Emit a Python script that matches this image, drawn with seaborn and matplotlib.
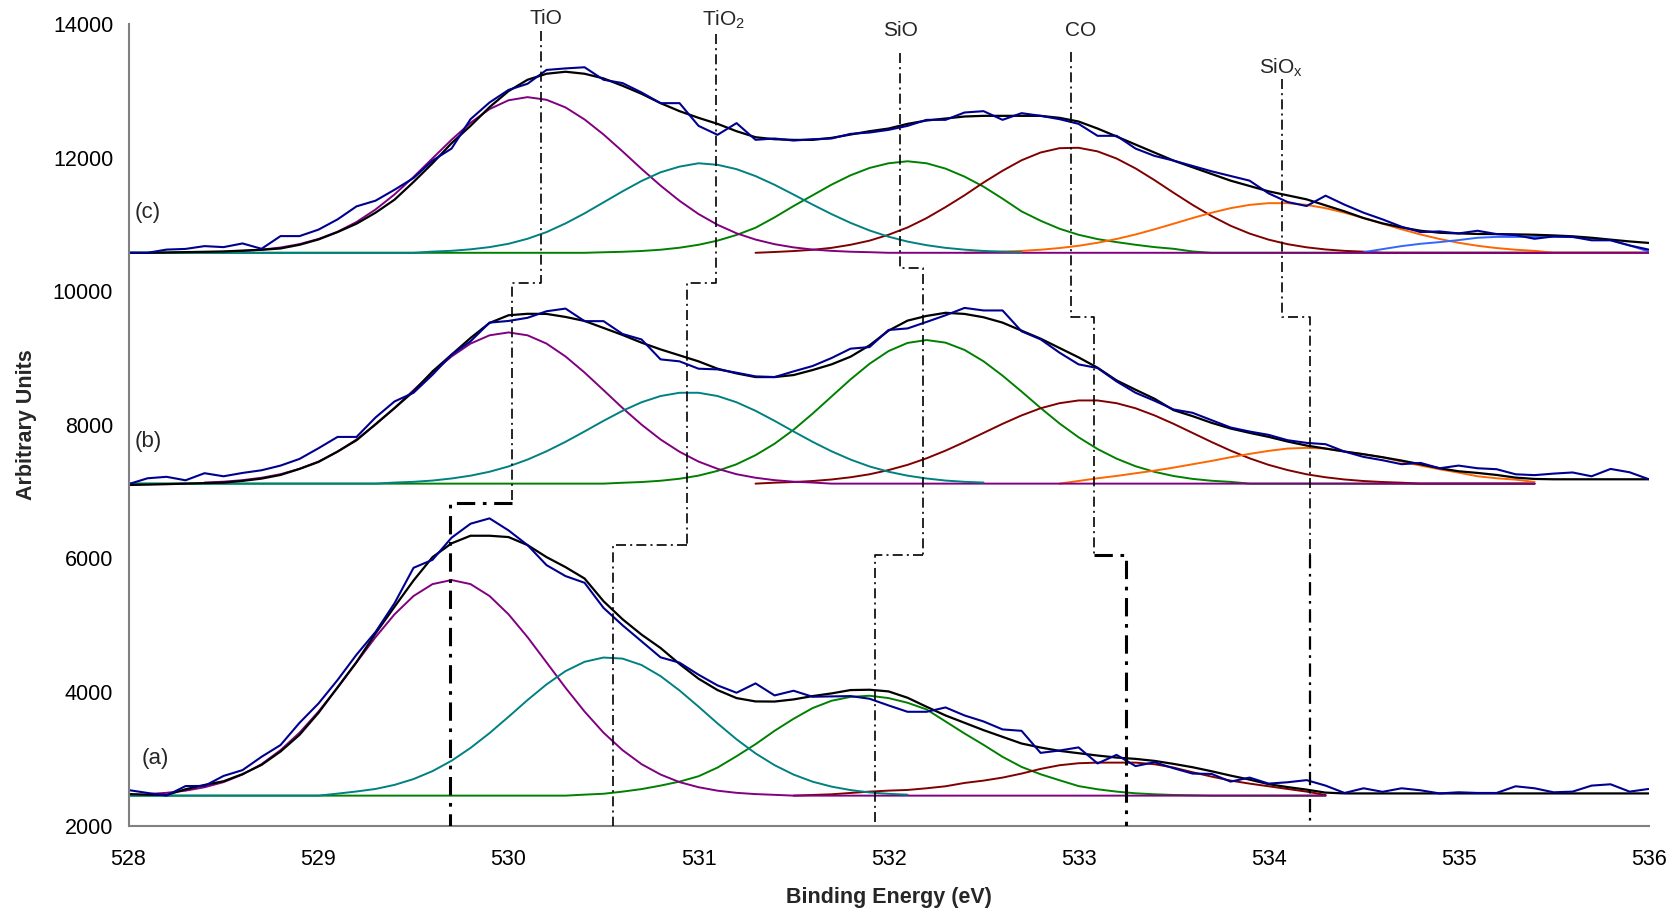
import numpy as np
import matplotlib
matplotlib.use("Agg")
import matplotlib.pyplot as plt
import seaborn as sns

# ---------------- data ----------------
energy_start = 528.0
energy_step = 0.1

# raw spectra (blue) and fitted envelopes (black), 528.0 .. 536.0 eV every 0.1 eV
c_raw = [10575, 10575, 10623, 10633, 10675, 10660, 10715, 10635, 10825, 10825,
         10922, 11075, 11270, 11355, 11519, 11694, 11955, 12135, 12575, 12825,
         13013, 13105, 13312, 13335, 13352, 13165, 13115, 12975, 12815, 12815,
         12475, 12341, 12516, 12266, 12286, 12255, 12275, 12286, 12355, 12375,
         12415, 12475, 12565, 12565, 12675, 12695, 12565, 12665, 12625, 12575,
         12505, 12326, 12326, 12135, 12025, 11955, 11875, 11795, 11725, 11655,
         11465, 11335, 11275, 11430, 11295, 11175, 11075, 10965, 10885, 10895,
         10865, 10905, 10855, 10840, 10785, 10820, 10813, 10762, 10762, 10685,
         10623]
c_fit = [10575, 10575, 10580, 10585, 10590, 10595, 10608, 10620, 10640, 10695,
         10775, 10885, 11011, 11175, 11370, 11635, 11915, 12215, 12475, 12755,
         12995, 13165, 13255, 13285, 13255, 13185, 13075, 12955, 12815, 12695,
         12595, 12505, 12395, 12305, 12275, 12265, 12265, 12295, 12345, 12395,
         12435, 12505, 12555, 12585, 12615, 12625, 12625, 12625, 12625, 12595,
         12540, 12435, 12316, 12195, 12075, 11955, 11855, 11755, 11655, 11575,
         11495, 11435, 11375, 11285, 11195, 11095, 11015, 10955, 10905, 10875,
         10865, 10857, 10855, 10851, 10845, 10835, 10822, 10800, 10772, 10745,
         10723]

b_raw = [7112, 7200, 7222, 7170, 7276, 7230, 7280, 7320, 7390, 7490,
         7650, 7819, 7819, 8110, 8350, 8480, 8750, 9050, 9250, 9530,
         9555, 9602, 9700, 9740, 9552, 9552, 9360, 9278, 8980, 8950,
         8840, 8830, 8780, 8725, 8715, 8800, 8880, 9000, 9140, 9164,
         9420, 9443, 9540, 9640, 9750, 9712, 9712, 9400, 9280, 9080,
         8905, 8850, 8650, 8480, 8360, 8230, 8180, 8070, 7960, 7900,
         7850, 7770, 7730, 7710, 7600, 7520, 7470, 7411, 7430, 7350,
         7390, 7350, 7336, 7260, 7247, 7270, 7287, 7230, 7340, 7290,
         7187]
b_fit = [7100, 7105, 7112, 7120, 7128, 7135, 7161, 7195, 7250, 7340,
         7445, 7600, 7769, 8010, 8250, 8500, 8800, 9050, 9300, 9525,
         9640, 9662, 9660, 9615, 9555, 9450, 9345, 9230, 9129, 9040,
         8950, 8840, 8770, 8715, 8715, 8745, 8820, 8905, 9020, 9190,
         9410, 9560, 9630, 9677, 9660, 9610, 9530, 9410, 9290, 9150,
         9010, 8855, 8665, 8525, 8390, 8220, 8130, 8030, 7945, 7880,
         7820, 7750, 7690, 7645, 7600, 7560, 7515, 7465, 7410, 7350,
         7305, 7280, 7250, 7210, 7190, 7185, 7185, 7185, 7185, 7185,
         7185]

a_raw = [2533, 2490, 2450, 2593, 2595, 2745, 2832, 3031, 3207, 3540,
         3830, 4180, 4560, 4900, 5330, 5860, 5980, 6310, 6520, 6600,
         6420, 6200, 5900, 5736, 5636, 5260, 5000, 4760, 4520, 4440,
         4260, 4100, 3990, 4130, 3950, 4020, 3930, 3935, 3940, 3900,
         3800, 3705, 3705, 3770, 3650, 3560, 3441, 3420, 3090, 3125,
         3172, 2932, 3060, 2892, 2950, 2860, 2780, 2775, 2660, 2720,
         2630, 2650, 2682, 2600, 2490, 2560, 2507, 2560, 2530, 2483,
         2500, 2490, 2490, 2590, 2560, 2500, 2510, 2600, 2620, 2510,
         2550]
a_fit = [2473, 2465, 2460, 2545, 2610, 2665, 2772, 2910, 3110, 3360,
         3690, 4070, 4450, 4878, 5277, 5670, 6020, 6226, 6340, 6340,
         6320, 6200, 6020, 5870, 5700, 5360, 5090, 4860, 4660, 4420,
         4200, 4030, 3910, 3860, 3858, 3890, 3940, 3980, 4030, 4035,
         4010, 3915, 3780, 3650, 3540, 3430, 3330, 3230, 3170, 3120,
         3085, 3050, 3020, 3000, 2970, 2925, 2875, 2815, 2750, 2690,
         2622, 2578, 2540, 2495, 2483, 2483, 2483, 2483, 2483, 2483,
         2483, 2483, 2483, 2483, 2483, 2483, 2483, 2483, 2483, 2483,
         2483]

# fitted components: baseline, last energy of the component range,
# and per component (first energy, heights above the baseline every 0.1 eV)
c_base, c_end = 10575, 536.0
c_TiO = (528.4, [7, 14, 26, 47, 79, 130, 207, 315, 461, 648, 874, 1135, 1414, 1692, 1946,
                 2151, 2283, 2330, 2290, 2176, 1996, 1771, 1518, 1256, 1006, 778, 580, 419,
                 292, 198, 129, 81, 49, 29, 16, 9])
c_TiO2 = (529.6, [18, 30, 52, 85, 135, 210, 310, 440, 590, 755, 920, 1075, 1205, 1290, 1340,
                  1317, 1252, 1148, 1018, 872, 722, 579, 448, 334, 241, 168, 114, 74, 47, 28, 16, 9])
c_SiO = (530.5, [8, 15, 27, 46, 76, 120, 182, 267, 375, 530, 700, 860, 1020, 1160, 1270, 1340,
                 1370, 1340, 1260, 1140, 990, 810, 620, 480, 360, 270, 205, 160, 120, 85, 60, 20])
c_CO = (531.3, [0, 12, 26, 45, 74, 120, 182, 270, 379, 519, 684, 861, 1052, 1228, 1385, 1501, 1566,
                1572, 1518, 1411, 1263, 1087, 899, 717, 550, 405, 288, 197, 129, 82, 50, 29, 17])
c_SiOx = (532.4, [0, 10, 18, 29, 46, 71, 105, 150, 207, 274, 352, 435, 520, 600, 668, 717, 743, 743,
                  717, 668, 600, 520, 435, 352, 274, 207, 150, 105, 71, 46, 29])
c_extra = (534.5, [10, 55, 100, 135, 160, 190, 225, 238, 238, 238, 238, 235, 215, 190, 110, 20])

b_base, b_end = 7120, 535.4
b_TiO = (528.4, [16, 29, 52, 88, 141, 222, 330, 477, 661, 883, 1132, 1399, 1663, 1903, 2096, 2220,
                 2263, 2220, 2096, 1903, 1663, 1399, 1132, 883, 661, 477, 330, 222, 141, 88, 52, 29, 16])
b_TiO2 = (529.4, [16, 27, 46, 77, 119, 178, 257, 360, 484, 626, 781, 940, 1090, 1218, 1311, 1360,
                  1360, 1311, 1218, 1090, 940, 781, 626, 484, 360, 257, 178, 119, 77, 46, 27, 16])
b_SiO = (530.6, [13, 24, 43, 73, 120, 191, 290, 426, 597, 806, 1047, 1304, 1560, 1794, 1984, 2106,
                 2149, 2110, 2001, 1831, 1616, 1378, 1133, 900, 694, 518, 374, 260, 176, 114, 71, 43, 26])
b_CO = (531.3, [0, 14, 24, 39, 62, 95, 140, 203, 281, 379, 494, 623, 759, 895, 1021, 1128, 1204, 1245,
                1245, 1204, 1128, 1021, 895, 759, 623, 494, 379, 281, 203, 140, 95, 62, 39, 24, 14])
b_SiOx = (532.9, [0, 40, 80, 115, 155, 195, 240, 290, 340, 395, 445, 490, 525, 535, 525, 480, 440, 395,
                  330, 270, 215, 165, 110, 80, 60, 25])

a_base, a_end = 2450, 534.3
a_TiO = (528.1, [23, 42, 74, 126, 202, 316, 471, 681, 942, 1259, 1614, 1994, 2372, 2714, 2988, 3166,
                 3227, 3166, 2988, 2714, 2372, 1994, 1614, 1259, 942, 681, 471, 316, 202, 126, 74, 42, 23, 12])
a_TiO2 = (529.1, [30, 62, 100, 161, 248, 367, 522, 714, 936, 1180, 1431, 1665, 1864, 2003, 2067, 2051,
                  1955, 1789, 1574, 1332, 1081, 843, 632, 456, 315, 209, 135, 83, 48, 27, 14])
a_SiO = (530.4, [15, 28, 60, 98, 150, 210, 290, 420, 590, 770, 970, 1150, 1310, 1420, 1478, 1495, 1460,
                 1390, 1290, 1110, 930, 760, 581, 430, 320, 230, 143, 95, 60, 35, 20, 10, 5])
a_CO = (531.5, [0, 10, 20, 40, 60, 75, 85, 110, 140, 190, 225, 270, 330, 400, 455, 485, 494, 494, 494,
                470, 420, 350, 285, 225, 180, 140, 100, 60, 10])

# peak-position guides
guide_labels = ["TiO", "TiO$_\\mathregular{2}$", "SiO", "CO", "SiO$_\\mathregular{x}$"]
guide_label_x = [530.11, 531.02, 531.97, 532.93, 533.95]
guide_label_y = [14080, 14060, 13900, 13900, 13340]
guide_top = [13900, 13850, 13570, 13580, 13180]
guide_pos_c = [530.17, 531.09, 532.06, 532.96, 534.07]
guide_step_cb = [10120, 10120, 10340, 9620, 9620]
guide_pos_b = [530.02, 530.94, 532.18, 533.08, 534.22]
guide_step_ba = [6830, 6200, 6050, 6050, 6050]
guide_pos_a = [529.69, 530.55, 531.93, 533.25, 534.22]
guide_bottom_lw = [2.2, 1.2, 1.2, 2.2, 1.6]

panel_labels = ["(c)", "(b)", "(a)"]
panel_label_x = [528.03, 528.03, 528.07]
panel_label_y = [11181, 7747, 3007]

# ---------------- drawing ----------------
sns.set_style("white")
plt.rcParams["font.family"] = ["Liberation Sans", "DejaVu Sans"]
plt.rcParams["mathtext.fontset"] = "custom"
plt.rcParams["mathtext.rm"] = "Liberation Sans"
plt.rcParams["mathtext.it"] = "Liberation Sans:italic"

fig = plt.figure(figsize=(16.8, 9.15), dpi=100)
ax = fig.add_axes([0.0765, 0.0976, 0.9048, 0.8762])

n_pts = len(c_raw)
energy = np.round(energy_start + energy_step * np.arange(n_pts), 2)

col = {"TiO": "#800080", "TiO2": "#008080", "SiO": "#008000", "CO": "#800000",
       "SiOx": "#FF6600", "extra": "#3366FF"}
# how each component's line continues along the baseline (left / right of its listed values)
pad_rule = {"TiO2": (True, False), "SiO": (True, True), "CO": (False, True),
            "SiOx": (False, True), "extra": (False, True), "TiO": (False, True)}


def component(name, comp, base, end):
    start, heights = comp
    n = int(round((end - energy_start) / energy_step)) + 1
    y = np.zeros(n)
    i0 = int(round((start - energy_start) / energy_step))
    i1 = min(i0 + len(heights), n)
    y[i0:i1] = heights[:i1 - i0]
    left, right = pad_rule[name]
    lo = 0 if left else i0
    hi = n if right else i1
    return energy[lo:hi], base + y[lo:hi]


spectra = [
    (c_raw, c_fit, c_base, c_end, [("SiO", c_SiO), ("CO", c_CO), ("SiOx", c_SiOx),
                                   ("extra", c_extra), ("TiO", c_TiO), ("TiO2", c_TiO2)]),
    (b_raw, b_fit, b_base, b_end, [("SiO", b_SiO), ("CO", b_CO), ("SiOx", b_SiOx),
                                   ("TiO", b_TiO), ("TiO2", b_TiO2)]),
    (a_raw, a_fit, a_base, a_end, [("SiO", a_SiO), ("CO", a_CO), ("TiO", a_TiO),
                                   ("TiO2", a_TiO2)]),
]

for raw, fit, base, end, comps in spectra:
    for name, comp in comps:
        xs, ys = component(name, comp, base, end)
        sns.lineplot(x=xs, y=ys, color=col[name], linewidth=1.4, ax=ax,
                     estimator=None, sort=False, legend=False)
    sns.lineplot(x=energy, y=np.array(fit, float), color="black", linewidth=1.6, ax=ax,
                 estimator=None, sort=False, legend=False)
    sns.lineplot(x=energy, y=np.array(raw, float), color="#000090", linewidth=1.5, ax=ax,
                 estimator=None, sort=False, legend=False)

dash = (0, (6, 2.5, 1.2, 2.5))
for i in range(len(guide_labels)):
    gx = [guide_pos_c[i], guide_pos_c[i], guide_pos_b[i], guide_pos_b[i]]
    gy = [guide_top[i], guide_step_cb[i], guide_step_cb[i], guide_step_ba[i]]
    ax.plot(gx, gy, color="black", linewidth=1.2, linestyle=dash, zorder=5)
    ax.plot([guide_pos_b[i], guide_pos_a[i], guide_pos_a[i]],
            [guide_step_ba[i], guide_step_ba[i], 2000], color="black",
            linewidth=guide_bottom_lw[i], linestyle=dash, zorder=5)
    ax.text(guide_label_x[i], guide_label_y[i], guide_labels[i], fontsize=15,
            ha="left", va="center", clip_on=False)

for lab, lx, ly in zip(panel_labels, panel_label_x, panel_label_y):
    ax.text(lx, ly, lab, fontsize=16, ha="left", va="center")

ax.set_xlim(528, 536)
ax.set_ylim(2000, 14000)
ax.set_xticks(np.arange(528, 537, 1))
ax.set_yticks(np.arange(2000, 14001, 2000))
ax.set_xticklabels([str(v) for v in range(528, 537)])
ax.set_yticklabels([str(v) for v in range(2000, 14001, 2000)])

for s in ["top", "right"]:
    ax.spines[s].set_visible(False)
for s in ["left", "bottom"]:
    ax.spines[s].set_color("#808080")
    ax.spines[s].set_linewidth(1.5)

ax.tick_params(axis="both", direction="out", length=4, width=1.2, color="#808080",
               labelsize=15.5, labelcolor="black")
ax.tick_params(axis="x", pad=13)
ax.tick_params(axis="y", pad=7)

ax.set_xlabel("Binding Energy (eV)", fontsize=15.5, fontweight="bold")
ax.set_ylabel("Arbitrary Units", fontsize=15.5, fontweight="bold")
ax.xaxis.label.set_va("center")
ax.yaxis.label.set_va("center")
ax.xaxis.set_label_coords(0.5, -0.090)
ax.yaxis.set_label_coords(-0.0668, 0.5)

fig.savefig("out.png", dpi=100)
